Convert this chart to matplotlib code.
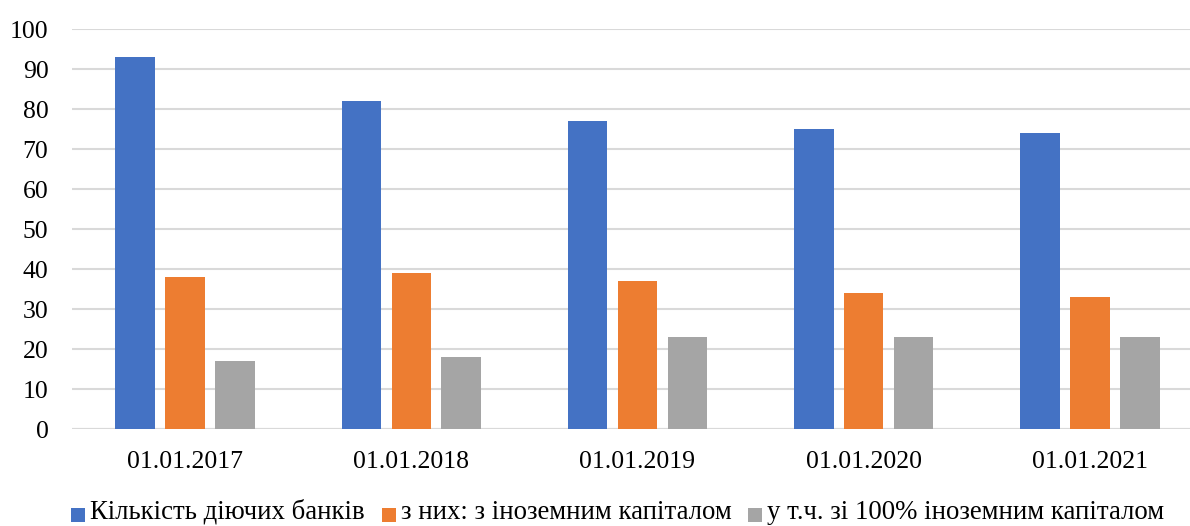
import matplotlib
matplotlib.use("Agg")
import matplotlib.pyplot as plt
from matplotlib.patches import Rectangle
import numpy as np

plt.rcParams['font.family'] = 'serif'
plt.rcParams['font.serif'] = ['Liberation Serif', 'Times New Roman', 'DejaVu Serif']

categories = ["01.01.2017", "01.01.2018", "01.01.2019", "01.01.2020", "01.01.2021"]
series_names = ["Кількість діючих банків", "з них: з іноземним капіталом",
                "у т.ч. зі 100% іноземним капіталом"]
banks = [93, 82, 77, 75, 74]
foreign = [38, 39, 37, 34, 33]
foreign100 = [17, 18, 23, 23, 23]
colors = ["#4472C4", "#ED7D31", "#A5A5A5"]
yticks = list(range(0, 101, 10))

W, H = 1190, 526
fig = plt.figure(figsize=(W / 100, H / 100), dpi=100)
ax = fig.add_axes([72 / W, (H - 429) / H, 1131 / W, 400 / H])

x = np.arange(len(categories))
bw = 0.175
step = 0.221
for i, (vals, c) in enumerate(zip([banks, foreign, foreign100], colors)):
    ax.bar(x + (i - 1) * step, vals, width=bw, color=c, zorder=3)

ax.set_xlim(-0.5, 4.5)
ax.set_ylim(0, 100)
ax.set_yticks(yticks)
ax.set_xticks(x)
ax.set_xticklabels(categories)
ax.grid(axis='y', color='#D9D9D9', linewidth=1.5, zorder=0)
ax.set_axisbelow(True)
for s in ax.spines.values():
    s.set_visible(False)
ax.tick_params(axis='both', length=0, labelsize=18.5, colors='black')
ax.tick_params(axis='y', pad=17)
ax.tick_params(axis='x', pad=16)
ax.axhline(0, color='#D9D9D9', linewidth=1.5, zorder=1)

# legend drawn manually in pixel coordinates
fig.canvas.draw()
renderer = fig.canvas.get_renderer()
px = 71.0
baseline = 519.0
msize = 14.0
for name, c in zip(series_names, colors):
    fig.patches.append(Rectangle((px / W, (H - baseline - 3) / H), msize / W, msize / H,
                                 transform=fig.transFigure, facecolor=c,
                                 edgecolor='none'))
    t = fig.text((px + msize + 5) / W, (H - baseline) / H, name,
                 fontsize=19.3, va='baseline', ha='left', color='black')
    bb = t.get_window_extent(renderer)
    px = bb.x1 + 17

fig.savefig("out.png", dpi=100)
